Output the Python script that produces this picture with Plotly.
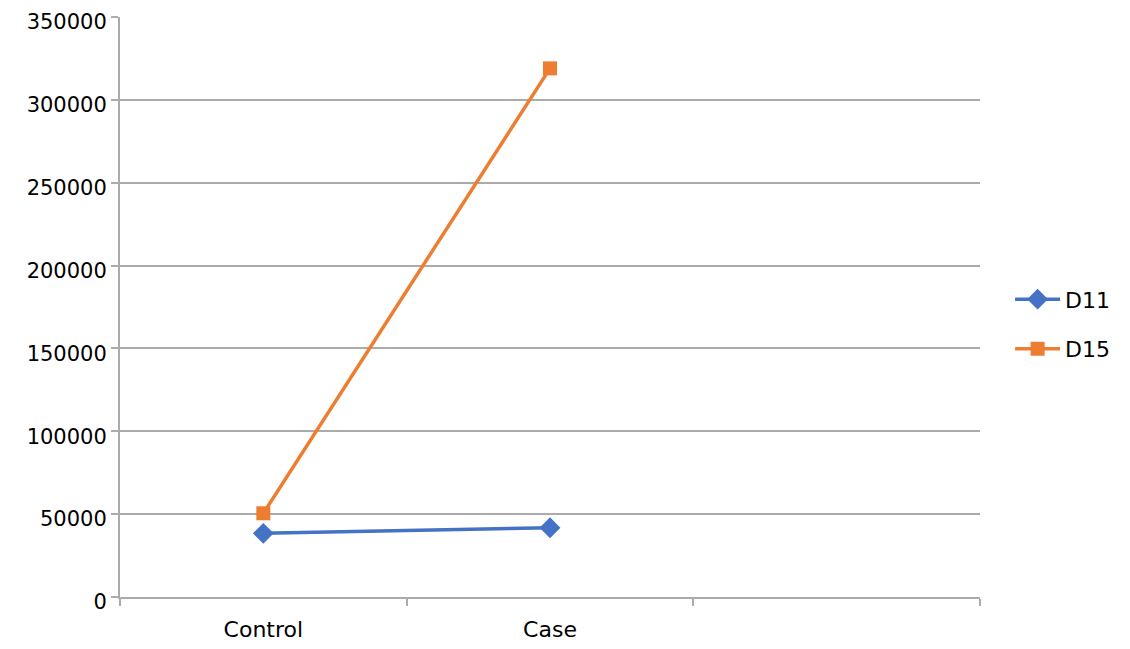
import plotly.graph_objects as go

categories = ["Control", "Case"]
slots = ["Control", "Case", " "]
d11 = [38400, 41800]
d15 = [50500, 319000]
ytick_vals = [0, 50000, 100000, 150000, 200000, 250000, 300000, 350000]

FONT = "DejaVu Sans"
GRID = "#ABABAB"
FS = 22

fig = go.Figure()
fig.add_trace(go.Scatter(
    x=categories, y=d11, name="D11", mode="lines+markers", legendgroup="a",
    line=dict(color="#4472C4", width=3.5),
    marker=dict(symbol="diamond", size=16, color="#4472C4"),
))
fig.add_trace(go.Scatter(
    x=categories, y=d15, name="D15", mode="lines+markers", legendgroup="b",
    line=dict(color="#ED7D31", width=3.5),
    marker=dict(symbol="square", size=14, color="#ED7D31"),
))

fig.update_layout(
    width=1130, height=649,
    margin=dict(l=112, r=158, t=9, b=60, autoexpand=False),
    paper_bgcolor="white", plot_bgcolor="white",
    font=dict(family=FONT, size=FS, color="#000000"),
    legend=dict(x=1.035, xanchor="left", y=0.47, yanchor="middle",
                traceorder="grouped", tracegroupgap=18, itemwidth=45,
                font=dict(family=FONT, size=FS, color="#000000")),
    showlegend=True,
)
fig.update_xaxes(
    type="category", categoryorder="array", categoryarray=slots,
    range=[-0.5, 2.5], tickson="boundaries", automargin=False,
    showgrid=False, showline=True, linecolor=GRID, linewidth=2,
    ticks="outside", ticklen=7, tickcolor=GRID, tickwidth=2,
    ticklabelstandoff=12, ticklabeloverflow="allow",
    tickfont=dict(family=FONT, size=FS, color="#000000"),
    zeroline=False,
)
fig.update_yaxes(
    range=[0, 350000], tickvals=ytick_vals, tickformat="d", automargin=False,
    showgrid=True, gridcolor=GRID, gridwidth=1.5,
    showline=True, linecolor=GRID, linewidth=2,
    ticks="outside", ticklen=7, tickcolor=GRID, tickwidth=2,
    ticklabeloverflow="allow", ticklabelshift=5,
    tickfont=dict(family=FONT, size=21, color="#000000"),
    zeroline=False,
)

fig.write_html("out.html")
